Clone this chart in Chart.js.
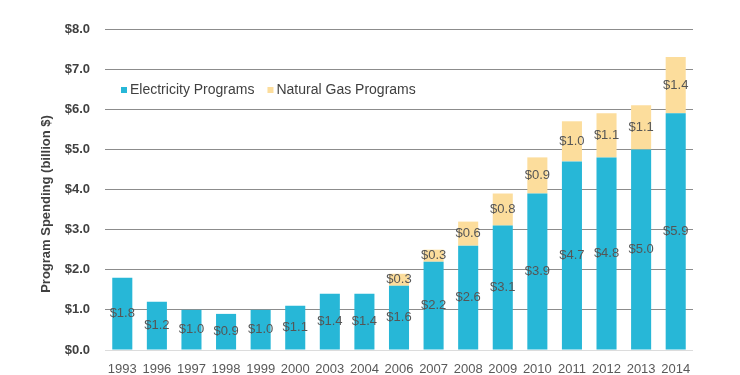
<!DOCTYPE html>
<html>
<head>
<meta charset="utf-8">
<script src="https://cdn.jsdelivr.net/npm/chart.js@4"></script>
<style>
  html, body { margin: 0; padding: 0; background: #fff; }
  #wrap { width: 740px; height: 375px; position: relative; }
</style>
</head>
<body>
<div id="wrap"><canvas id="chart"></canvas></div>
<script>
const years = ['1993','1996','1997','1998','1999','2000','2003','2004','2006','2007','2008','2009','2010','2011','2012','2013','2014'];
const electricity = [1.8, 1.2, 1.0, 0.9, 1.0, 1.1, 1.4, 1.4, 1.6, 2.2, 2.6, 3.1, 3.9, 4.7, 4.8, 5.0, 5.9];
const naturalGas = [0, 0, 0, 0, 0, 0, 0, 0, 0.3, 0.3, 0.6, 0.8, 0.9, 1.0, 1.1, 1.1, 1.4];
const yTicks = [0, 1, 2, 3, 4, 5, 6, 7, 8];
const yTitle = 'Program Spending (billion $)';

const FONT = "'Liberation Sans', Arial, sans-serif";

// value labels in the middle of each segment
const barLabels = {
    id: 'barLabels',
    afterDatasetsDraw(chart) {
        const ctx = chart.ctx;
        ctx.save();
        ctx.font = '13px ' + FONT;
        ctx.fillStyle = '#555555';
        ctx.textAlign = 'center';
        ctx.textBaseline = 'middle';
        chart.data.datasets.forEach((ds, i) => {
            chart.getDatasetMeta(i).data.forEach((bar, j) => {
                const v = ds.data[j];
                if (!v) return;
                const mid = (bar.y + bar.base) / 2;
                ctx.fillText('$' + v.toFixed(1), bar.x, mid);
            });
        });
        ctx.restore();
    }
};

// legend drawn inside the plot, top left; y title sits a bit below centre
const extras = {
    id: 'extras',
    afterDraw(chart) {
        const ctx = chart.ctx;
        ctx.save();
        ctx.font = '14px ' + FONT;
        ctx.textBaseline = 'middle';
        let x = 121;
        const y = 90;
        chart.data.datasets.forEach(ds => {
            ctx.fillStyle = ds.backgroundColor;
            ctx.fillRect(x, y - 3, 6, 6);
            ctx.fillStyle = '#404040';
            ctx.fillText(ds.label, x + 9, y);
            x += 9 + ctx.measureText(ds.label).width + 13;
        });
        ctx.restore();

        ctx.save();
        ctx.translate(46, 204);
        ctx.rotate(-Math.PI / 2);
        ctx.font = 'bold 13px ' + FONT;
        ctx.fillStyle = '#404040';
        ctx.textAlign = 'center';
        ctx.textBaseline = 'middle';
        ctx.fillText(yTitle, 0, 0);
        ctx.restore();
    }
};

new Chart(document.getElementById('chart'), {
    type: 'bar',
    data: {
        labels: years,
        datasets: [
            { label: 'Electricity Programs', data: electricity, backgroundColor: '#27B7D7' },
            { label: 'Natural Gas Programs', data: naturalGas, backgroundColor: '#FCDD9C' }
        ]
    },
    options: {
        responsive: true,
        maintainAspectRatio: false,
        animation: false,
        layout: { padding: { top: 29, right: 47, left: 0, bottom: 0 } },
        datasets: { bar: { barPercentage: 0.58, categoryPercentage: 1.0 } },
        plugins: {
            legend: { display: false },
            tooltip: { enabled: false }
        },
        scales: {
            x: {
                stacked: true,
                grid: { display: false },
                border: { display: false },
                ticks: { color: '#595959', font: { family: FONT, size: 13 }, padding: 4, maxRotation: 0 },
                afterFit(scale) { scale.height = 25; }
            },
            y: {
                stacked: true,
                min: 0,
                max: 8,
                afterBuildTicks(scale) { scale.ticks = yTicks.map(v => ({ value: v })); },
                grid: {
                    drawTicks: false,
                    color: ctx => ctx.index === 0 ? '#dcdcdc' : '#8c8c8c',
                    lineWidth: 1
                },
                border: { display: false },
                ticks: {
                    color: '#404040',
                    font: { family: FONT, size: 13, weight: 'bold' },
                    padding: 15,
                    callback: v => '$' + Number(v).toFixed(1)
                },
                afterFit(scale) { scale.width = 105; }
            }
        }
    },
    plugins: [barLabels, extras]
});
</script>
</body>
</html>
